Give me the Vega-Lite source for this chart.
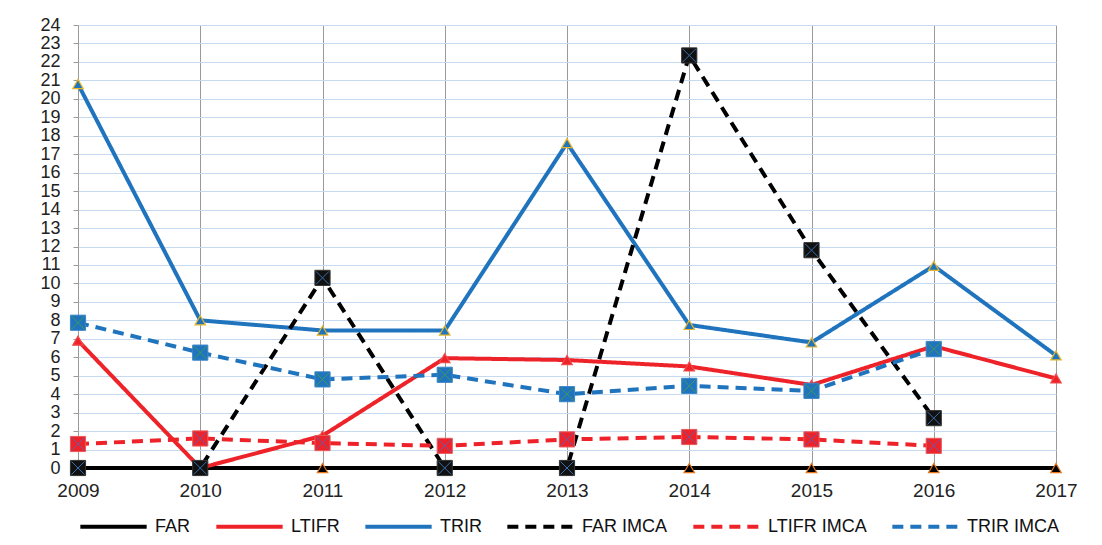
{
  "$schema": "https://vega.github.io/schema/vega-lite/v6.json",
  "width": 978,
  "height": 443,
  "autosize": "none",
  "padding": {"left": 78, "top": 25, "right": 46, "bottom": 77},
  "background": "white",
  "config": {
    "font": "Liberation Sans",
    "view": {"stroke": null}
  },
  "resolve": {"scale": {"fill": "independent", "stroke": "independent"}},
  "data": {
    "values": [
      {"year": 2009, "series": "FAR", "value": 0},
      {"year": 2010, "series": "FAR", "value": 0},
      {"year": 2011, "series": "FAR", "value": 0},
      {"year": 2012, "series": "FAR", "value": 0},
      {"year": 2013, "series": "FAR", "value": 0},
      {"year": 2014, "series": "FAR", "value": 0},
      {"year": 2015, "series": "FAR", "value": 0},
      {"year": 2016, "series": "FAR", "value": 0},
      {"year": 2017, "series": "FAR", "value": 0},
      {"year": 2009, "series": "LTIFR", "value": 6.9},
      {"year": 2010, "series": "LTIFR", "value": 0},
      {"year": 2011, "series": "LTIFR", "value": 1.75},
      {"year": 2012, "series": "LTIFR", "value": 5.95},
      {"year": 2013, "series": "LTIFR", "value": 5.85},
      {"year": 2014, "series": "LTIFR", "value": 5.5},
      {"year": 2015, "series": "LTIFR", "value": 4.5},
      {"year": 2016, "series": "LTIFR", "value": 6.6},
      {"year": 2017, "series": "LTIFR", "value": 4.85},
      {"year": 2009, "series": "TRIR", "value": 20.8},
      {"year": 2010, "series": "TRIR", "value": 8.0},
      {"year": 2011, "series": "TRIR", "value": 7.45},
      {"year": 2012, "series": "TRIR", "value": 7.45},
      {"year": 2013, "series": "TRIR", "value": 17.6},
      {"year": 2014, "series": "TRIR", "value": 7.75},
      {"year": 2015, "series": "TRIR", "value": 6.8},
      {"year": 2016, "series": "TRIR", "value": 10.95},
      {"year": 2017, "series": "TRIR", "value": 6.1},
      {"year": 2009, "series": "FAR IMCA", "value": 0},
      {"year": 2010, "series": "FAR IMCA", "value": 0},
      {"year": 2011, "series": "FAR IMCA", "value": 10.3},
      {"year": 2012, "series": "FAR IMCA", "value": 0},
      {"year": 2013, "series": "FAR IMCA", "value": 0},
      {"year": 2014, "series": "FAR IMCA", "value": 22.35},
      {"year": 2015, "series": "FAR IMCA", "value": 11.8},
      {"year": 2016, "series": "FAR IMCA", "value": 2.7},
      {"year": 2009, "series": "LTIFR IMCA", "value": 1.3},
      {"year": 2010, "series": "LTIFR IMCA", "value": 1.6},
      {"year": 2011, "series": "LTIFR IMCA", "value": 1.35},
      {"year": 2012, "series": "LTIFR IMCA", "value": 1.2},
      {"year": 2013, "series": "LTIFR IMCA", "value": 1.55},
      {"year": 2014, "series": "LTIFR IMCA", "value": 1.68},
      {"year": 2015, "series": "LTIFR IMCA", "value": 1.55},
      {"year": 2016, "series": "LTIFR IMCA", "value": 1.2},
      {"year": 2009, "series": "TRIR IMCA", "value": 7.87},
      {"year": 2010, "series": "TRIR IMCA", "value": 6.25},
      {"year": 2011, "series": "TRIR IMCA", "value": 4.8},
      {"year": 2012, "series": "TRIR IMCA", "value": 5.05},
      {"year": 2013, "series": "TRIR IMCA", "value": 4.0},
      {"year": 2014, "series": "TRIR IMCA", "value": 4.45},
      {"year": 2015, "series": "TRIR IMCA", "value": 4.18},
      {"year": 2016, "series": "TRIR IMCA", "value": 6.45}
    ]
  },
  "encoding": {
    "x": {
      "field": "year",
      "type": "quantitative",
      "scale": {"domain": [2009, 2017], "nice": false, "zero": false},
      "axis": {
        "title": null,
        "values": [2009, 2010, 2011, 2012, 2013, 2014, 2015, 2016, 2017],
        "format": "d",
        "domain": false,
        "ticks": false,
        "labelFontSize": 19,
        "labelColor": "#222222",
        "labelPadding": 13,
        "labelFlush": false,
        "labelOverlap": false,
        "labelBound": false,
        "grid": true,
        "gridColor": "#9a9a9a",
        "gridWidth": 1
      }
    },
    "y": {
      "field": "value",
      "type": "quantitative",
      "scale": {"domain": [0, 24], "nice": false},
      "axis": {
        "title": null,
        "values": [0,1,2,3,4,5,6,7,8,9,10,11,12,13,14,15,16,17,18,19,20,21,22,23,24],
        "domain": false,
        "ticks": true,
        "tickSize": 5,
        "tickColor": "#9a9a9a",
        "labelFontSize": 18,
        "labelColor": "#222222",
        "labelPadding": 13,
        "labelOverlap": false,
        "labelFlush": false,
        "labelBound": false,
        "grid": true,
        "gridColor": "#c5daf0",
        "gridWidth": 1
      }
    }
  },
  "layer": [
    {
      "mark": {"type": "line", "strokeWidth": 4},
      "encoding": {
        "color": {
          "field": "series",
          "type": "nominal",
          "scale": {
            "domain": ["FAR", "LTIFR", "TRIR", "FAR IMCA", "LTIFR IMCA", "TRIR IMCA"],
            "range": ["#000000", "#ee2329", "#1f74bd", "#000000", "#ee2329", "#1f74bd"]
          },
          "legend": {
            "title": null,
            "orient": "bottom",
            "direction": "horizontal",
            "symbolType": "stroke",
            "symbolSize": 4400,
            "symbolStrokeWidth": 4,
            "labelFontSize": 18,
            "labelColor": "#111111",
            "labelOffset": 6,
            "columnPadding": 17,
            "offset": -9
          }
        },
        "strokeDash": {
          "field": "series",
          "type": "nominal",
          "scale": {
            "domain": ["FAR", "LTIFR", "TRIR", "FAR IMCA", "LTIFR IMCA", "TRIR IMCA"],
            "range": [[1, 0], [1, 0], [1, 0], [11, 7], [11, 7], [11, 7]]
          },
          "legend": {"title": null}
        }
      }
    },
    {
      "transform": [{"filter": {"field": "series", "oneOf": ["FAR", "LTIFR", "TRIR"]}}],
      "mark": {"type": "point", "shape": "triangle-up", "filled": true, "size": 110, "strokeWidth": 1.2, "opacity": 1},
      "encoding": {
        "fill": {
          "field": "series",
          "type": "nominal",
          "scale": {"domain": ["FAR", "LTIFR", "TRIR"], "range": ["#000000", "#ee2329", "#1f74bd"]},
          "legend": null
        },
        "stroke": {
          "field": "series",
          "type": "nominal",
          "scale": {"domain": ["FAR", "LTIFR", "TRIR"], "range": ["#e8771c", "#f04a4a", "#e6b82a"]},
          "legend": null
        }
      }
    },
    {
      "transform": [{"filter": {"field": "series", "oneOf": ["FAR IMCA", "LTIFR IMCA", "TRIR IMCA"]}}],
      "mark": {"type": "point", "shape": "square", "filled": true, "size": 230, "strokeWidth": 1, "opacity": 1},
      "encoding": {
        "fill": {
          "field": "series",
          "type": "nominal",
          "scale": {"domain": ["FAR IMCA", "LTIFR IMCA", "TRIR IMCA"], "range": ["#111111", "#ee2329", "#1f74bd"]},
          "legend": null
        },
        "stroke": {
          "field": "series",
          "type": "nominal",
          "scale": {"domain": ["FAR IMCA", "LTIFR IMCA", "TRIR IMCA"], "range": ["#333333", "#e85a5a", "#3a86c8"]},
          "legend": null
        }
      }
    },
    {
      "transform": [{"filter": {"field": "series", "oneOf": ["FAR IMCA", "LTIFR IMCA", "TRIR IMCA"]}}],
      "mark": {"type": "point", "shape": "M-0.85,-0.85L0.85,0.85M0.85,-0.85L-0.85,0.85", "filled": false, "size": 230, "strokeWidth": 1, "opacity": 1},
      "encoding": {
        "stroke": {
          "field": "series",
          "type": "nominal",
          "scale": {"domain": ["FAR IMCA", "LTIFR IMCA", "TRIR IMCA"], "range": ["#3a6fb0", "#6a5aa8", "#3e9a5a"]},
          "legend": null
        }
      }
    }
  ]
}
